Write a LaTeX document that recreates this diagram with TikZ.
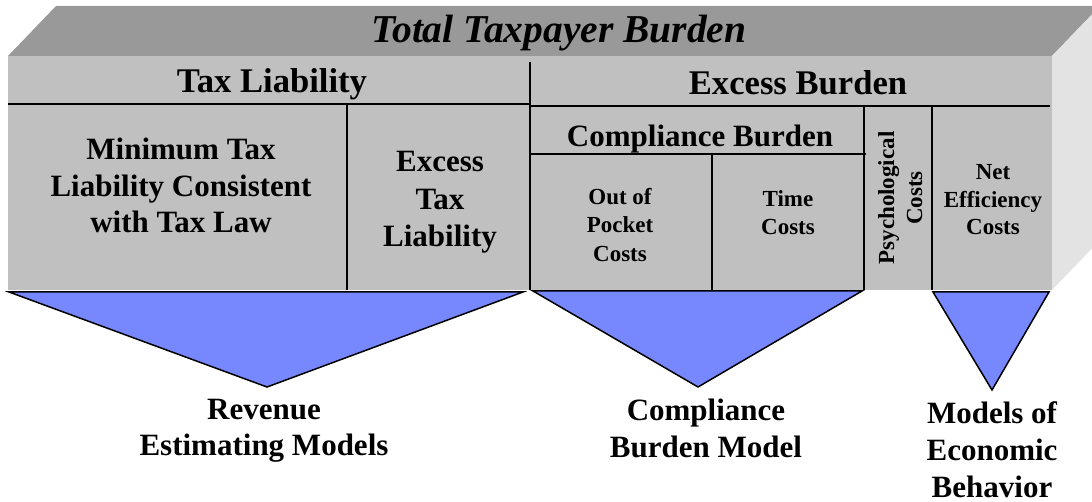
\documentclass[tikz,border=0pt]{standalone}
\usepackage{fontspec}
\setmainfont{Liberation Serif}
\definecolor{topgray}{HTML}{999999}
\definecolor{frontgray}{HTML}{C0C0C0}
\definecolor{sidegray}{HTML}{E3E3E3}
\definecolor{triblue}{HTML}{7788FF}
\tikzset{
  lbl/.style={inner sep=0pt, outer sep=0pt, anchor=base, text=black},
  ttl/.style={lbl, font=\fontsize{39.5}{45}\selectfont\bfseries\itshape},
  hdr/.style={lbl, font=\fontsize{34.6}{40}\selectfont\bfseries},
  mid/.style={lbl, font=\fontsize{31}{36}\selectfont\bfseries},
  sml/.style={lbl, font=\fontsize{23}{28}\selectfont\bfseries},
  divline/.style={line width=1.6pt, draw=black},
  funnel/.style={fill=triblue, draw=black, line width=1.5pt, line join=miter},
}
\begin{document}
\begin{tikzpicture}[x=1pt,y=-1pt]
\useasboundingbox (0,0) rectangle (1092,502);
\begin{scope}
  \clip (0,0) rectangle (1092,502);
  \fill[topgray] (8,56) -- (56,6) -- (1100,6) -- (1052,56) -- cycle;
  \fill[sidegray] (1052,56) -- (1100,6) -- (1100,240) -- (1052,290) -- cycle;
\end{scope}
\fill[frontgray] (8,56) rectangle (1052,290);

% divider lines
\draw[divline] (530,62) -- (530,290);
\draw[divline] (8,104) -- (530,104);
\draw[divline] (530,106) -- (1050,106);
\draw[divline] (347,104) -- (347,290);
\draw[divline] (530,154) -- (866,154);
\draw[divline] (864,106) -- (864,290);
\draw[divline] (712,154) -- (712,290);
\draw[divline] (932,106) -- (932,290);

% funnels
\draw[funnel] (9,292) -- (523,292) -- (267,387) -- cycle;
\draw[funnel] (533,291) -- (862,291) -- (698,387) -- cycle;
\draw[funnel] (933,292) -- (1049,292) -- (992,390) -- cycle;

% texts
\node[ttl] (title) at (559,43) {Total Taxpayer Burden};
\node[hdr] (taxliab) at (272,93) {Tax Liability};
\node[hdr] (excburd) at (798,95) {Excess Burden};
\node[mid] (compburd) at (700,147) {Compliance Burden};

\node[mid] (min1) at (181,160) {Minimum Tax};
\node[mid] (min2) at (181,196.5) {Liability Consistent};
\node[mid] (min3) at (181,233) {with Tax Law};

\node[mid] (ex1) at (440,172) {Excess};
\node[mid] (ex2) at (440,209.5) {Tax};
\node[mid] (ex3) at (440,247) {Liability};

\node[sml] (oop1) at (620,205) {Out of};
\node[sml] (oop2) at (620,233) {Pocket};
\node[sml] (oop3) at (620,262) {Costs};

\node[sml] (tc1) at (788,207) {Time};
\node[sml] (tc2) at (788,235) {Costs};

\node[sml, rotate=90] (psy1) at (894,198) {Psychological};
\node[sml, rotate=90] (psy2) at (922,198) {Costs};

\node[sml] (ne1) at (993,180) {Net};
\node[sml] (ne2) at (993,207.5) {Efficiency};
\node[sml] (ne3) at (993,235) {Costs};

\node[mid] (rev1) at (264,419) {Revenue};
\node[mid] (rev2) at (264,455) {Estimating Models};

\node[mid] (cbm1) at (706,420) {Compliance};
\node[mid] (cbm2) at (706,457) {Burden Model};

\node[mid] (meb1) at (992,423) {Models of};
\node[mid] (meb2) at (992,460) {Economic};
\node[mid] (meb3) at (992,497) {Behavior};
\end{tikzpicture}
\end{document}
